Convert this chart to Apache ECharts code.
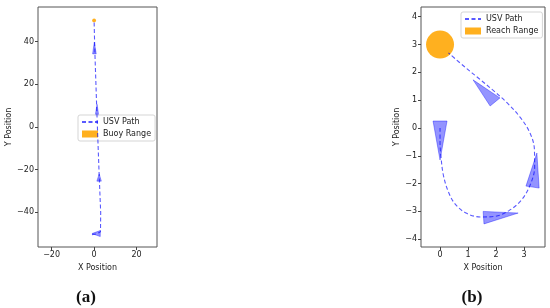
<!DOCTYPE html>
<html>
<head>
<meta charset="utf-8">
<script src="https://cdn.jsdelivr.net/npm/echarts@6/dist/echarts.min.js"></script>
<style>
  html, body { margin: 0; padding: 0; background: #fff; }
  #main { width: 550px; height: 308px; }
</style>
</head>
<body>
<div id="main"></div>
<script>
// (a) path to the buoy
var pathAX = [-1, 1, 3, 3.1, 2.4, 1.3, 0.3, 0]
var pathAY = [-50.5, -50.2, -49.2, -40, -23, 7, 37, 50]
// arrow triangles (three vertices each, x1,y1,x2,y2,x3,y3)
var arrowsA = [
  [-1, -50, 2.9, -48.6, 2.9, -51.4],
  [2.4, -22, 1.3, -25.4, 3.4, -25.4],
  [1.4, 10.6, 0.5, 5.2, 2.2, 5.2],
  [0.1, 39.8, -0.7, 34.3, 1.0, 34.3]
]
var buoyA = [0, 50, 0.9]   // x, y, radius

// (b) curved path to the reach range
var pathBX = [0, 0, 0.03, 0.12, 0.3, 0.55, 0.95, 1.45, 1.95, 2.45, 2.9, 3.22, 3.38, 3.37, 3.2, 2.85, 2.4, 1.9, 1.4, 0.9, 0.3]
var pathBY = [0, -0.5, -1, -1.7, -2.3, -2.75, -3.07, -3.2, -3.18, -2.98, -2.6, -2.05, -1.4, -0.75, -0.15, 0.4, 0.9, 1.35, 1.77, 2.18, 2.7]
var arrowsB = [
  [0, -1.15, -0.25, 0.25, 0.25, 0.25],
  [1.18, 1.73, 2.14, 1.08, 1.79, 0.79],
  [3.46, -0.9, 3.54, -2.16, 3.07, -2.09],
  [2.79, -3.06, 1.54, -3.0, 1.57, -3.45]
]
var reachB = [0, 3, 0.5]

var ticksAX = [-20, 0, 20]
var ticksAY = [-40, -20, 0, 20, 40]
var ticksBX = [0, 1, 2, 3]
var ticksBY = [-4, -3, -2, -1, 0, 1, 2, 3, 4]

var font = 'DejaVu Sans'
var fmt = function (v) { return String(v).replace('-', '\u2212') }

function zip (xs, ys) {
  return xs.map(function (x, i) { return [x, ys[i]] })
}

function axis (min, max, ticks, name, gap, rotate) {
  return {
    type: 'value',
    min: min,
    max: max,
    name: name,
    nameLocation: 'middle',
    nameGap: gap,
    nameRotate: rotate,
    nameTextStyle: { fontFamily: font, fontSize: 8, color: '#222' },
    axisLine: { show: false, onZero: false },
    splitLine: { show: false },
    axisTick: { show: true, length: 3, lineStyle: { color: '#444' }, customValues: ticks },
    axisLabel: { fontFamily: font, fontSize: 8, color: '#222', margin: 4, formatter: fmt, customValues: ticks }
  }
}

function triangles (idx, data) {
  return {
    type: 'custom',
    name: 'arrow',
    xAxisIndex: idx,
    yAxisIndex: idx,
    data: data,
    z: 3,
    renderItem: function (params, api) {
      var pts = []
      for (var k = 0; k < 3; k++) {
        pts.push(api.coord([api.value(k * 2), api.value(k * 2 + 1)]))
      }
      return {
        type: 'polygon',
        shape: { points: pts },
        style: { fill: 'rgba(0,0,255,0.42)', stroke: 'rgba(0,0,255,0.45)', lineWidth: 0.8 }
      }
    }
  }
}

function circle (idx, name, c) {
  return {
    type: 'custom',
    name: name,
    xAxisIndex: idx,
    yAxisIndex: idx,
    data: [c],
    itemStyle: { color: 'rgba(255,165,0,0.88)' },
    z: 2,
    renderItem: function (params, api) {
      var p = api.coord([api.value(0), api.value(1)])
      var r = api.size([api.value(2), api.value(2)])
      return {
        type: 'circle',
        shape: { cx: p[0], cy: p[1], r: r[0] },
        style: { fill: 'rgba(255,165,0,0.88)' }
      }
    }
  }
}

function path (idx, data, smooth) {
  return {
    type: 'line',
    name: 'USV Path',
    xAxisIndex: idx,
    yAxisIndex: idx,
    data: data,
    smooth: smooth,
    symbol: 'none',
    z: 4,
    lineStyle: { color: 'rgba(0,0,255,0.65)', width: 1.1, type: [4, 2.5] },
    itemStyle: { color: 'rgba(0,0,255,0.65)' }
  }
}

function legend (left, top, names) {
  return {
    left: left,
    top: top,
    orient: 'vertical',
    itemWidth: 16,
    itemHeight: 7,
    itemGap: 4,
    padding: [3, 4, 3, 3],
    borderColor: '#d5d5d5',
    borderWidth: 1,
    borderRadius: 2,
    backgroundColor: 'rgba(255,255,255,0.85)',
    selectedMode: false,
    textStyle: { fontFamily: font, fontSize: 8, color: '#222' },
    data: [
      { name: 'USV Path', itemStyle: { opacity: 0 } },
      { name: names, icon: 'rect' }
    ]
  }
}

var chart = echarts.init(document.getElementById('main'))
chart.setOption({
  backgroundColor: '#fff',
  animation: false,
  grid: [
    { left: 38, top: 7, width: 119, height: 240, show: true, borderColor: '#555', borderWidth: 1 },
    { left: 421, top: 7, width: 124, height: 240, show: true, borderColor: '#555', borderWidth: 1 }
  ],
  xAxis: [
    Object.assign(axis(-26.4, 29.6, ticksAX, 'X Position', 15), { gridIndex: 0 }),
    Object.assign(axis(-0.68, 3.75, ticksBX, 'X Position', 15), { gridIndex: 1 })
  ],
  yAxis: [
    Object.assign(axis(-56.3, 56.3, ticksAY, 'Y Position', 25, 90), { gridIndex: 0 }),
    Object.assign(axis(-4.28, 4.35, ticksBY, 'Y Position', 20, 90), { gridIndex: 1 })
  ],
  title: [
    {
      text: '{p|(}{b|a}{p|)}',
      left: 81,
      top: 284,
      textAlign: 'center',
      textStyle: { rich: {
        p: { fontFamily: 'Liberation Serif', fontSize: 17, color: '#111' },
        b: { fontFamily: 'Liberation Serif', fontSize: 17, fontWeight: 'bold', color: '#111' }
      } }
    },
    {
      text: '{p|(}{b|b}{p|)}',
      left: 467,
      top: 284,
      textAlign: 'center',
      textStyle: { rich: {
        p: { fontFamily: 'Liberation Serif', fontSize: 17, color: '#111' },
        b: { fontFamily: 'Liberation Serif', fontSize: 17, fontWeight: 'bold', color: '#111' }
      } }
    }
  ],
  legend: [
    legend(78, 115, 'Buoy Range'),
    legend(461, 12, 'Reach Range')
  ],
  series: [
    circle(0, 'Buoy Range', buoyA),
    path(0, zip(pathAX, pathAY), false),
    triangles(0, arrowsA),
    circle(1, 'Reach Range', reachB),
    path(1, zip(pathBX, pathBY), 0.35),
    triangles(1, arrowsB)
  ]
})
</script>
</body>
</html>
